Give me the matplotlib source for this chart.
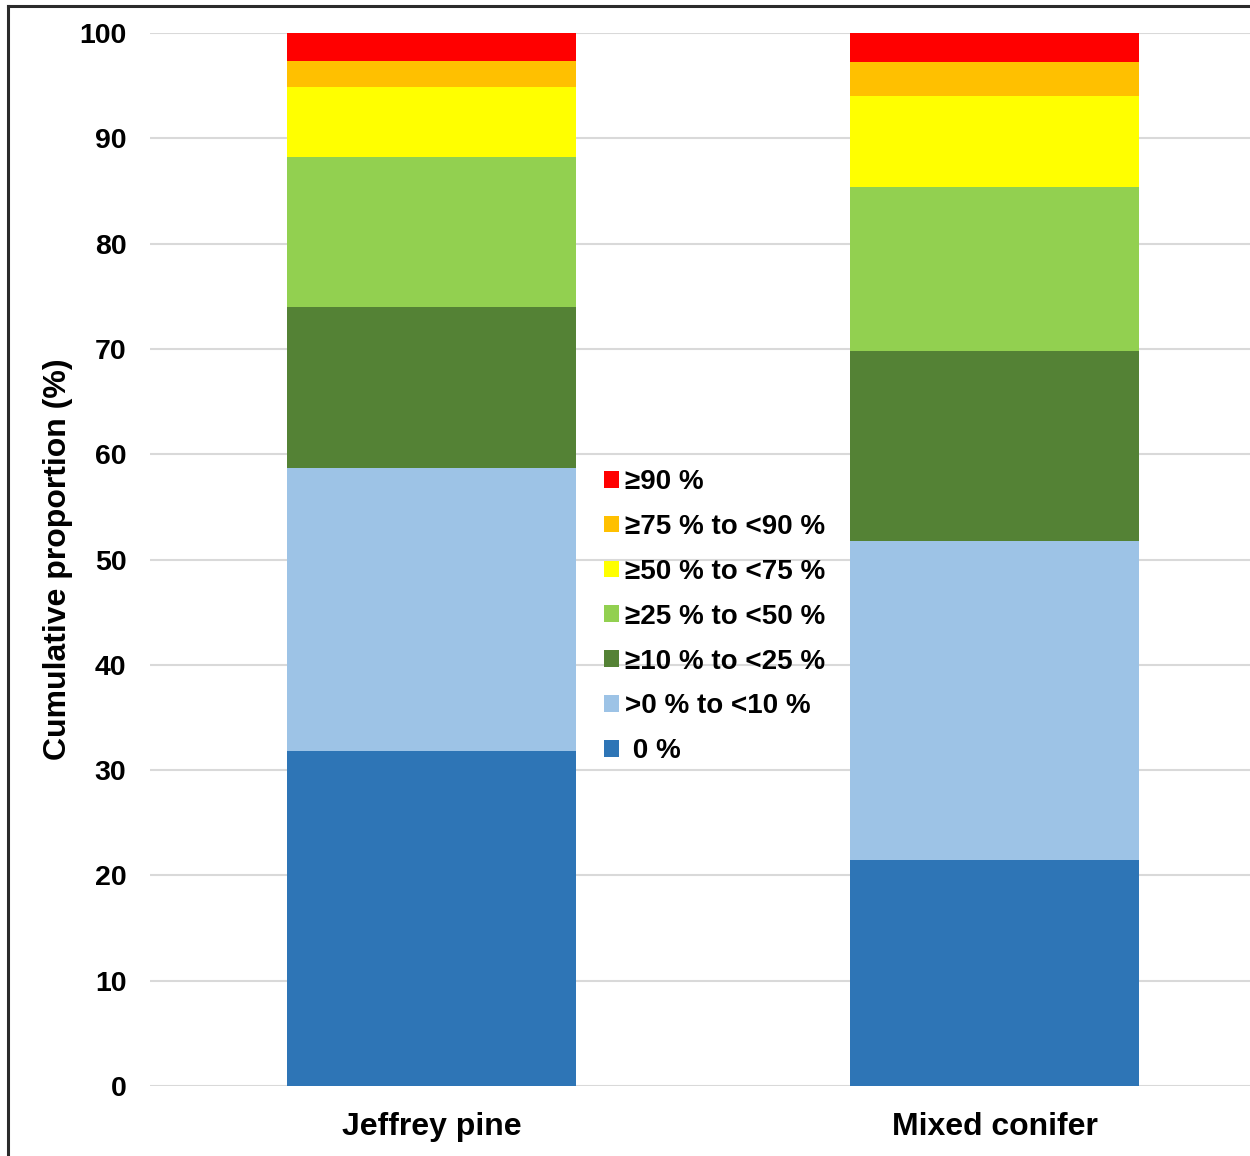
import matplotlib.pyplot as plt
from matplotlib.lines import Line2D

plt.rcParams['font.family'] = ['Liberation Sans', 'DejaVu Sans']
plt.rcParams['font.weight'] = 'bold'

forest_types = ['Jeffrey pine', 'Mixed conifer']
classes = [' 0 %', '>0 % to <10 %', '\u226510 % to <25 %', '\u226525 % to <50 %',
           '\u226550 % to <75 %', '\u226575 % to <90 %', '\u226590 %']
colors = ['#2E75B6', '#9DC3E6', '#548235', '#92D050', '#FFFF00', '#FFC000', '#FF0000']

# share of trees in each class (%), bottom to top
jeffrey_pine = [31.8, 26.9, 15.3, 14.2, 6.7, 2.4, 2.7]
mixed_conifer = [21.5, 30.3, 18.0, 15.6, 8.6, 3.2, 2.8]

fig = plt.figure(figsize=(12.5, 11.56), dpi=100)
ax = fig.add_axes([150 / 1250, 70 / 1156, 1126 / 1250, 1053 / 1156])

bottoms = [0.0, 0.0]
handles = []
for i, label in enumerate(classes):
    vals = [jeffrey_pine[i], mixed_conifer[i]]
    b = ax.bar([0, 1], vals, width=0.515, bottom=bottoms, color=colors[i], label=label, zorder=3)
    handles.append(b)
    bottoms = [bottoms[0] + vals[0], bottoms[1] + vals[1]]

ax.set_xlim(-0.5, 1.5)
ax.set_ylim(0, 100)
ax.set_yticks(range(0, 101, 10))
ax.set_xticks([0, 1])
ax.set_xticklabels(forest_types, fontsize=23, fontweight='bold')
ax.tick_params(axis='y', labelsize=20.5, length=0, pad=17)
ax.tick_params(axis='x', length=0, pad=19)
ax.yaxis.grid(True, color='#D9D9D9', linewidth=1.5, zorder=0)
ax.set_axisbelow(True)
for s in ax.spines.values():
    s.set_visible(False)
ax.set_ylabel('Cumulative proportion (%)', fontsize=23, fontweight='bold')
ax.yaxis.set_label_coords(-77 / 1126, 0.5)

ax.legend(handles[::-1], classes[::-1], loc='upper left', bbox_to_anchor=(604 / 1250, 1 - 469 / 1156),
          bbox_transform=fig.transFigure, frameon=False, fontsize=20,
          handlelength=0.55, handleheight=0.55, handletextpad=0.22, labelspacing=0.68,
          borderpad=0, borderaxespad=0)

# outer frame along the left and top edge
fig.add_artist(Line2D([8 / 1250, 8 / 1250], [0, 1 - 6 / 1156], color='#2b2b2b', linewidth=2.2))
fig.add_artist(Line2D([8 / 1250, 1], [1 - 6 / 1156, 1 - 6 / 1156], color='#2b2b2b', linewidth=2.2))

fig.savefig('out.png', dpi=100)
